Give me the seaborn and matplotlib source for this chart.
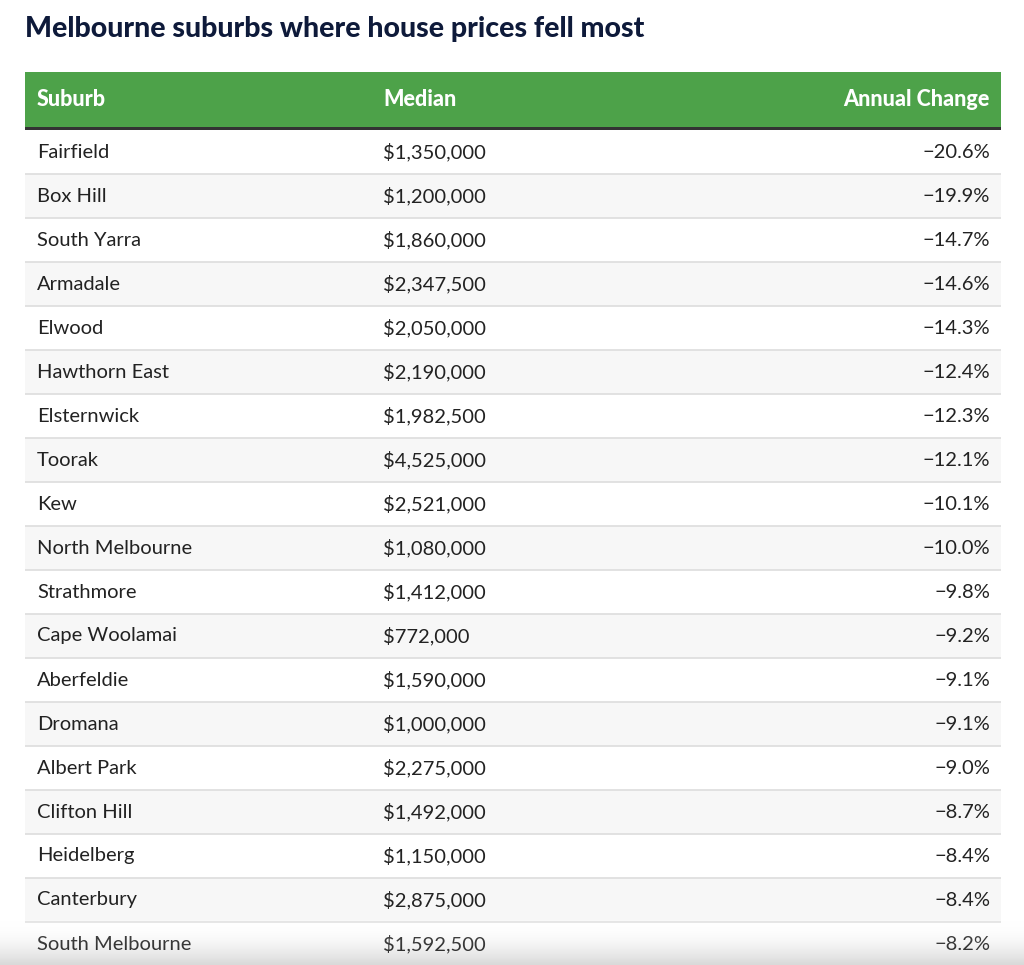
import numpy as np
import pandas as pd
import matplotlib
matplotlib.use("Agg")
import matplotlib.pyplot as plt
import seaborn as sns

# table data
suburbs = ["Fairfield", "Box Hill", "South Yarra", "Armadale", "Elwood",
           "Hawthorn East", "Elsternwick", "Toorak", "Kew", "North Melbourne",
           "Strathmore", "Cape Woolamai", "Aberfeldie", "Dromana", "Albert Park",
           "Clifton Hill", "Heidelberg", "Canterbury", "South Melbourne"]
medians = [1350000, 1200000, 1860000, 2347500, 2050000, 2190000, 1982500,
           4525000, 2521000, 1080000, 1412000, 772000, 1590000, 1000000,
           2275000, 1492000, 1150000, 2875000, 1592500]
changes = [-20.6, -19.9, -14.7, -14.6, -14.3, -12.4, -12.3, -12.1, -10.1,
           -10.0, -9.8, -9.2, -9.1, -9.1, -9.0, -8.7, -8.4, -8.4, -8.2]
columns = ["Suburb", "Median", "Annual Change"]
title = "Melbourne suburbs where house prices fell most"

df = pd.DataFrame({"Suburb": suburbs, "Median": medians, "Change": changes})
df["stripe"] = np.arange(len(df)) % 2

sns.set_theme(style="white")
plt.rcParams["font.family"] = ["Lato", "DejaVu Sans"]

W, H = 1024, 965
fig = plt.figure(figsize=(W / 100, H / 100), dpi=100)
fig.patch.set_facecolor("white")

left, right = 25, 1001
body_top = 130
row_h = 44
n = len(df)

def frac_box(x0, y0, x1, y1):
    return [x0 / W, 1 - y1 / H, (x1 - x0) / W, (y1 - y0) / H]

# title
fig.text(left / W, 1 - 29 / H, title, fontsize=20.5, fontweight="black",
         color="#0e1a3a", va="center", ha="left")

# header
hax = fig.add_axes(frac_box(left, 72, right, 130))
hax.set_xlim(left, right)
hax.set_ylim(58, 0)
hax.axhspan(0, 55, color="#4da249", lw=0)
hax.axhspan(55, 58, color="#333333", lw=0)
hax.axis("off")
col_x = [37, 383, 990]
col_ha = ["left", "left", "right"]
for x, ha, name in zip(col_x, col_ha, columns):
    hax.text(x, 27, name, fontsize=15.5, fontweight="black", color="white",
             ha=ha, va="center")

# body: striped rows via heatmap
bax = fig.add_axes(frac_box(left, body_top, right, body_top + n * row_h))
sns.heatmap(df[["stripe"]], ax=bax, cmap=["#ffffff", "#f7f7f7"], cbar=False,
            xticklabels=False, yticklabels=False, linewidths=0)
bax.set_xlim(0, 1)
bax.set_ylim(n, 0)
for i in range(1, n):
    bax.axhline(i, color="#dddddd", lw=1.2)

def px(x):
    return (x - left) / (right - left)

for i, row in df.iterrows():
    y = i + 0.5
    bax.text(px(col_x[0]), y, row["Suburb"], fontsize=14.5, color="#222222",
             ha="left", va="center")
    bax.text(px(col_x[1]), y, f"${row['Median']:,.0f}", fontsize=14.5,
             color="#222222", ha="left", va="center")
    bax.text(px(col_x[2]), y, f"\u2212{abs(row['Change']):.1f}%", fontsize=14.5,
             color="#222222", ha="right", va="center")
bax.axis("off")

# soft shadow at the bottom edge
sax = fig.add_axes([0, 0, 1, 45 / H])
grad = np.linspace(0, 1, 50).reshape(-1, 1) ** 1.5
sax.imshow(grad, aspect="auto", cmap="Greys", alpha=0.15, vmin=0, vmax=1,
           extent=[0, 1, 0, 1], origin="upper")
sax.axis("off")

fig.savefig("out.png", dpi=100, facecolor="white")
